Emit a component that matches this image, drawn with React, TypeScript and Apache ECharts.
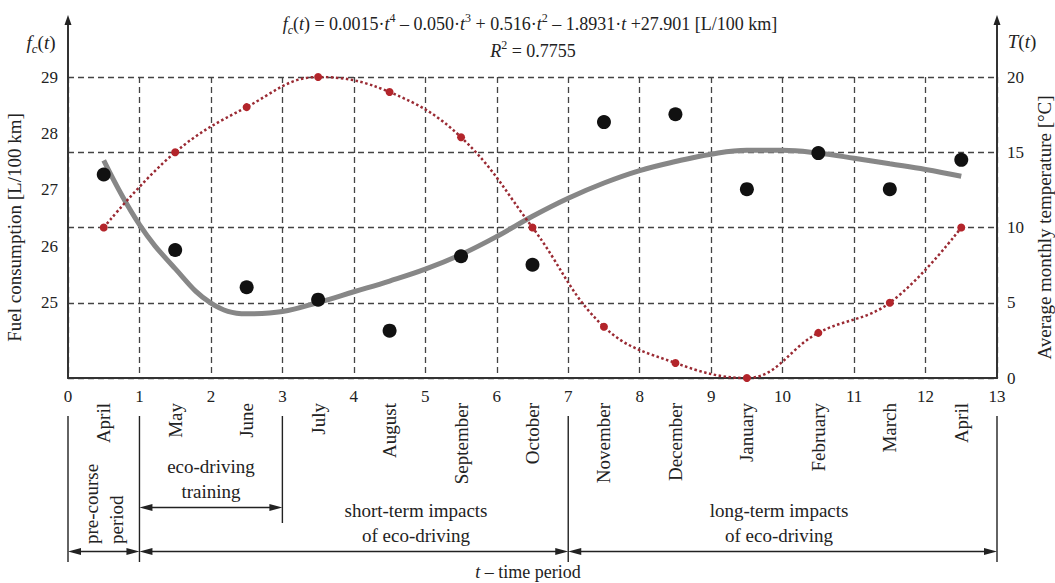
import React, { useEffect, useRef } from 'react';
import * as echarts from 'echarts';

// ---- data ----
const months = ['April', 'May', 'June', 'July', 'August', 'September', 'October', 'November', 'December', 'January', 'February', 'March', 'April'];
const monthT = [0.5, 1.5, 2.5, 3.5, 4.5, 5.5, 6.5, 7.5, 8.5, 9.5, 10.5, 11.5, 12.5];
const fuelConsumption = [27.27, 25.93, 25.27, 25.05, 24.5, 25.82, 25.67, 28.2, 28.34, 27.01, 27.65, 27.01, 27.53];
const temperature = [10, 15, 18, 20, 19, 16, 10, 3.4, 1.0, 0, 3, 5, 10];
const fitT = [0.5, 1, 1.5, 2, 2.5, 3, 3.5, 4, 4.5, 5, 5.5, 6, 6.5, 7, 7.5, 8, 8.5, 9, 9.5, 10, 10.5, 11, 11.5, 12, 12.5];
const fitValues = [27.52, 26.38, 25.6, 24.99, 24.8, 24.84, 25.0, 25.19, 25.38, 25.59, 25.85, 26.17, 26.53, 26.85, 27.12, 27.34, 27.5, 27.63, 27.7, 27.7, 27.65, 27.56, 27.46, 27.36, 27.24];
const xTicks = [0, 13, 1];
const leftAxisRange = [23.66, 29];
const rightAxisRange = [0, 20, 5];
const periodBounds = [0, 1, 7, 13];
const trainingRange = [1, 3];
const periodLabels = [
  { text: 'short-term impacts\nof eco-driving', center: 4.87 },
  { text: 'long-term impacts\nof eco-driving', center: 9.95 },
];

const FONT = "'Liberation Serif', 'DejaVu Serif', serif";
const INK = '#222';

function rich(size: number) {
  const s = Math.round(size * 0.68);
  return {
    n: { fontFamily: FONT, fontSize: size, color: INK, lineHeight: size + 6 },
    i: { fontFamily: FONT, fontSize: size, fontStyle: 'italic', color: INK, lineHeight: size + 6 },
    sup: { fontFamily: FONT, fontSize: s, color: INK, verticalAlign: 'top', lineHeight: s + 2 },
    sub: { fontFamily: FONT, fontSize: s, fontStyle: 'italic', color: INK, verticalAlign: 'bottom', lineHeight: s + 2 },
  };
}

export default function App() {
  const ref = useRef<HTMLDivElement>(null);

  useEffect(() => {
    if (!ref.current) return;
    const chart = echarts.init(ref.current, null, { renderer: 'svg' });
    const gridLine = { show: true, lineStyle: { type: [6, 4] as any, color: '#444', width: 1.3 } };
    const axisLine = { show: true, lineStyle: { color: '#333', width: 2 } };
    const label = { fontFamily: FONT, fontSize: 17, color: INK };

    chart.setOption({
      animation: false,
      backgroundColor: '#fff',
      grid: { left: 68, right: 58, top: 77, bottom: 205, outerBoundsMode: 'none', containLabel: false },
      xAxis: [
        {
          type: 'value', min: xTicks[0], max: xTicks[1], interval: xTicks[2],
          axisLine, axisTick: { show: false },
          axisLabel: { ...label, margin: 10 },
          splitLine: gridLine,
        },
        {
          type: 'category', data: months, boundaryGap: true, position: 'bottom',
          axisLine: { show: false }, axisTick: { show: false }, splitLine: { show: false },
          axisLabel: { ...label, fontSize: 19, rotate: 90, margin: 25, interval: 0 },
        },
      ],
      yAxis: [
        {
          type: 'value', min: leftAxisRange[0], max: leftAxisRange[1], minInterval: 1, maxInterval: 1,
          position: 'left', axisLine, axisTick: { show: false }, splitLine: { show: false },
          axisLabel: {
            ...label, margin: 10,
            formatter: (v: number) => (Math.abs(v - Math.round(v)) < 1e-6 && v >= 25 ? String(Math.round(v)) : ''),
          },
          name: 'Fuel consumption [L/100 km]', nameLocation: 'middle', nameRotate: 90, nameGap: 44,
          nameTextStyle: { fontFamily: FONT, fontSize: 19, color: INK },
        },
        {
          type: 'value', min: rightAxisRange[0], max: rightAxisRange[1], interval: rightAxisRange[2],
          position: 'right', axisLine, axisTick: { show: false }, splitLine: gridLine,
          axisLabel: { ...label, margin: 10 },
          name: 'Average monthly temperature [°C]', nameLocation: 'middle', nameRotate: 90, nameGap: 38,
          nameTextStyle: { fontFamily: FONT, fontSize: 19, color: INK },
        },
      ],
      series: [
        {
          type: 'line', xAxisIndex: 0, yAxisIndex: 0, smooth: 0.4, showSymbol: false,
          data: fitT.map((t, i) => [t, fitValues[i]]),
          lineStyle: { color: '#878787', width: 5 }, z: 2,
        },
        {
          type: 'line', xAxisIndex: 0, yAxisIndex: 1, smooth: 0.4,
          data: monthT.map((t, i) => [t, temperature[i]]),
          symbol: 'circle', symbolSize: 8,
          itemStyle: { color: '#b3252b', opacity: 1 },
          lineStyle: { color: '#9a2a33', width: 2.5, type: 'dotted' }, z: 3,
        },
        {
          type: 'scatter', xAxisIndex: 0, yAxisIndex: 0,
          data: monthT.map((t, i) => [t, fuelConsumption[i]]),
          symbolSize: 14, itemStyle: { color: '#111', opacity: 1 }, z: 4,
        },
      ],
    });

    const px = (t: number) => chart.convertToPixel({ xAxisIndex: 0 }, t) as number;
    const py = (v: number) => chart.convertToPixel({ yAxisIndex: 1 }, v) as number;
    const stroke = { stroke: '#222', lineWidth: 1.4 };
    const els: any[] = [];
    const line = (x1: number, y1: number, x2: number, y2: number, st: any = stroke) =>
      els.push({ type: 'line', shape: { x1, y1, x2, y2 }, style: st, silent: true });
    const tri = (pts: number[][]) => els.push({ type: 'polygon', shape: { points: pts }, style: { fill: '#222' }, silent: true });
    const hArrow = (x1: number, x2: number, y: number) => {
      line(x1 + 6, y, x2 - 6, y);
      tri([[x1, y], [x1 + 13, y - 3.5], [x1 + 13, y + 3.5]]);
      tri([[x2, y], [x2 - 13, y - 3.5], [x2 - 13, y + 3.5]]);
    };
    const text = (x: number, y: number, t: string, size: number, opts: any = {}) =>
      els.push({
        type: 'text', x, y, rotation: opts.rotation || 0, silent: true,
        style: {
          text: t, rich: rich(size), fontFamily: FONT, fontSize: size, fill: INK,
          align: opts.align || 'center', verticalAlign: 'middle', lineHeight: opts.lineHeight || size + 5,
        },
      });

    // vertical axes extended upward with arrows
    const top = py(rightAxisRange[1]);
    [px(xTicks[0]), px(xTicks[1])].forEach((x) => {
      line(x, top, x, 23, { stroke: '#333', lineWidth: 2 });
      tri([[x, 15], [x - 3.5, 25], [x + 3.5, 25]]);
    });

    // period separators
    const yTop = 416, yBot = 562, yArrow = 551.5;
    periodBounds.forEach((t) => line(px(t), yTop, px(t), yBot));
    line(px(trainingRange[1]), yTop, px(trainingRange[1]), 523);
    for (let k = 0; k < periodBounds.length - 1; k++) hArrow(px(periodBounds[k]), px(periodBounds[k + 1]), yArrow);
    hArrow(px(trainingRange[0]), px(trainingRange[1]), 507.5);

    text((px(trainingRange[0]) + px(trainingRange[1])) / 2, 478.5, '{n|eco-driving}\n{n|training}', 19, { lineHeight: 21 });
    periodLabels.forEach((p) => {
      const [a, b] = p.text.split('\n');
      text(px(p.center), 523, `{n|${a}}\n{n|${b}}`, 19, { lineHeight: 22 });
    });
    text((px(0) + px(1)) / 2, 544, '{n|pre-course}\n{n|period}', 19, { rotation: Math.PI / 2, align: 'left', lineHeight: 22 });
    text(528, 572, '{i|t}{n| – time period}', 18);

    // titles
    text(530, 24,
      '{i|f}{sub|c}{n|(}{i|t}{n|) = 0.0015·}{i|t}{sup|4}{n| – 0.050·}{i|t}{sup|3}{n| + 0.516·}{i|t}{sup|2}{n| – 1.8931·}{i|t}{n| +27.901 [L/100 km]}',
      18);
    text(533, 51, '{i|R}{sup|2}{n| = 0.7755}', 18);
    text(41, 42, '{i|f}{sub|c}{n|(}{i|t}{n|)}', 19);
    text(1022, 41, '{i|T}{n|(}{i|t}{n|)}', 19);

    chart.setOption({ graphic: els });

    return () => chart.dispose();
  }, []);

  return <div ref={ref} style={{ position: 'fixed', left: 0, top: 0, width: 1055, height: 583 }} />;
}
